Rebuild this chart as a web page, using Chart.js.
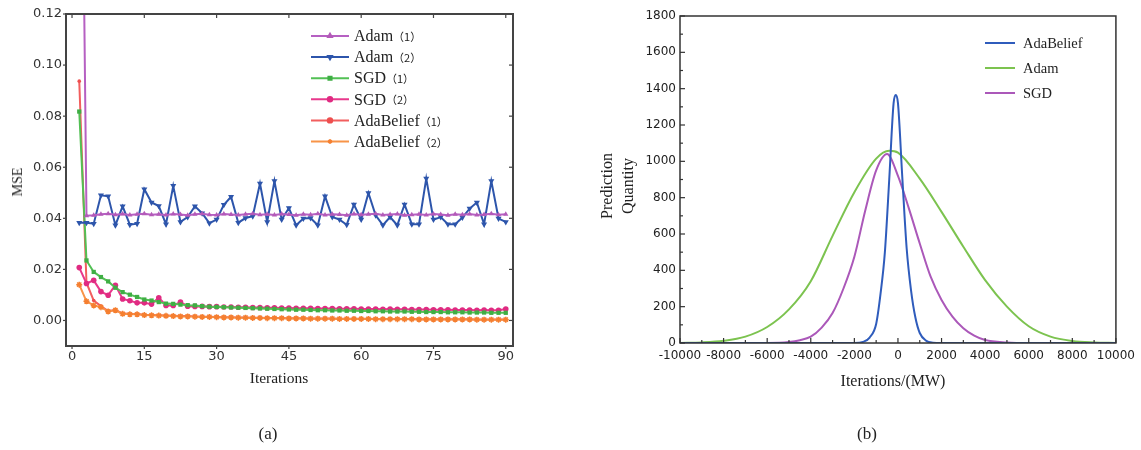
<!DOCTYPE html>
<html>
<head>
<meta charset="utf-8">
<script src="https://cdn.jsdelivr.net/npm/chart.js@4.4.0/dist/chart.umd.min.js"></script>
<style>
  body { margin: 0; background: #fff; }
  #wrap { position: relative; width: 1141px; height: 450px; overflow: hidden; background: #fff; }
  canvas { position: absolute; top: 0; }
  .t { position: absolute; font-family: "Liberation Serif", "Times New Roman", serif; color: #222;
       white-space: nowrap; transform: translate(-50%, -50%); line-height: 1; }
  .rot { transform: translate(-50%, -50%) rotate(-90deg); }
</style>
</head>
<body>
<div id="wrap">
  <canvas id="chartA" width="570" height="400" style="left:0"></canvas>
  <canvas id="chartB" width="571" height="400" style="left:570px"></canvas>
  <div class="t rot" style="left:18px;top:182px;font-size:14px">MSE</div>
  <div class="t" style="left:279px;top:378px;font-size:15.5px">Iterations</div>
  <div class="t rot" style="left:607px;top:186px;font-size:16px">Prediction</div>
  <div class="t rot" style="left:628px;top:186px;font-size:16px">Quantity</div>
  <div class="t" style="left:893px;top:381px;font-size:16px">Iterations/(MW)</div>
  <div class="t" style="left:268px;top:433px;font-size:17px">(a)</div>
  <div class="t" style="left:867px;top:433px;font-size:17px">(b)</div>
</div>
<script>
// ---- chart (a): MSE per iteration ----
const iters = [1.5, 3, 4.5, 6, 7.5, 9, 10.5, 12, 13.5, 15, 16.5, 18, 19.5, 21, 22.5, 24, 25.5, 27, 28.5, 30,
  31.5, 33, 34.5, 36, 37.5, 39, 40.5, 42, 43.5, 45, 46.5, 48, 49.5, 51, 52.5, 54, 55.5, 57, 58.5, 60,
  61.5, 63, 64.5, 66, 67.5, 69, 70.5, 72, 73.5, 75, 76.5, 78, 79.5, 81, 82.5, 84, 85.5, 87, 88.5, 90];

const adam1 = [0.3000, 0.0410, 0.0412, 0.0416, 0.0418, 0.0414, 0.0417, 0.0413, 0.0416, 0.0418,
  0.0414, 0.0416, 0.0413, 0.0417, 0.0415, 0.0412, 0.0416, 0.0418, 0.0414, 0.0413,
  0.0417, 0.0415, 0.0413, 0.0416, 0.0418, 0.0414, 0.0416, 0.0413, 0.0417, 0.0415,
  0.0412, 0.0416, 0.0414, 0.0418, 0.0413, 0.0416, 0.0415, 0.0412, 0.0417, 0.0414,
  0.0416, 0.0418, 0.0413, 0.0415, 0.0417, 0.0412, 0.0414, 0.0416, 0.0413, 0.0417,
  0.0415, 0.0412, 0.0416, 0.0414, 0.0417, 0.0413, 0.0415, 0.0418, 0.0414, 0.0416];

const adam2 = [0.0383, 0.0383, 0.0379, 0.0490, 0.0486, 0.0373, 0.0447, 0.0375, 0.0379, 0.0514,
  0.0462, 0.0448, 0.0377, 0.0527, 0.0386, 0.0405, 0.0447, 0.0420, 0.0381, 0.0395,
  0.0453, 0.0484, 0.0383, 0.0401, 0.0408, 0.0536, 0.0386, 0.0546, 0.0395, 0.0440,
  0.0373, 0.0399, 0.0401, 0.0373, 0.0486, 0.0405, 0.0395, 0.0375, 0.0454, 0.0395,
  0.0499, 0.0412, 0.0373, 0.0405, 0.0373, 0.0454, 0.0377, 0.0377, 0.0556, 0.0395,
  0.0405, 0.0377, 0.0377, 0.0403, 0.0438, 0.0462, 0.0377, 0.0546, 0.0399, 0.0386];

const sgd1 = [0.0818, 0.0235, 0.0190, 0.0170, 0.0153, 0.0128, 0.0111, 0.0101, 0.0092, 0.0082,
  0.0078, 0.0072, 0.0066, 0.0065, 0.0062, 0.0060, 0.0059, 0.0056, 0.0054, 0.0053,
  0.0052, 0.0051, 0.0050, 0.0049, 0.0048, 0.0047, 0.0046, 0.0045, 0.0044, 0.0043,
  0.0042, 0.0042, 0.0041, 0.0040, 0.0040, 0.0039, 0.0039, 0.0038, 0.0038, 0.0037,
  0.0037, 0.0036, 0.0036, 0.0035, 0.0035, 0.0035, 0.0034, 0.0034, 0.0033, 0.0033,
  0.0033, 0.0032, 0.0032, 0.0032, 0.0031, 0.0031, 0.0031, 0.0030, 0.0030, 0.0030];

const sgd2 = [0.0207, 0.0145, 0.0157, 0.0113, 0.0099, 0.0138, 0.0084, 0.0077, 0.0069, 0.0069,
  0.0064, 0.0089, 0.0059, 0.0059, 0.0072, 0.0056, 0.0055, 0.0055, 0.0054, 0.0054,
  0.0053, 0.0053, 0.0052, 0.0052, 0.0051, 0.0051, 0.0050, 0.0050, 0.0049, 0.0049,
  0.0048, 0.0048, 0.0048, 0.0047, 0.0047, 0.0047, 0.0046, 0.0046, 0.0046, 0.0045,
  0.0045, 0.0045, 0.0044, 0.0045, 0.0044, 0.0044, 0.0043, 0.0043, 0.0043, 0.0042,
  0.0042, 0.0042, 0.0041, 0.0041, 0.0041, 0.0040, 0.0041, 0.0040, 0.0040, 0.0045];

const adaBelief1 = [0.0937, 0.0148, 0.0078, 0.0056, 0.0037, 0.0041, 0.0028, 0.0025, 0.0025, 0.0022,
  0.0021, 0.0020, 0.0019, 0.0018, 0.0017, 0.0017, 0.0016, 0.0015, 0.0015, 0.0014,
  0.0013, 0.0013, 0.0012, 0.0012, 0.0011, 0.0011, 0.0010, 0.0010, 0.0010, 0.0009,
  0.0009, 0.0009, 0.0008, 0.0008, 0.0008, 0.0008, 0.0007, 0.0007, 0.0007, 0.0007,
  0.0007, 0.0006, 0.0006, 0.0006, 0.0006, 0.0006, 0.0006, 0.0005, 0.0005, 0.0005,
  0.0005, 0.0005, 0.0005, 0.0005, 0.0005, 0.0004, 0.0004, 0.0004, 0.0004, 0.0004];

const adaBelief2 = [0.0140, 0.0075, 0.0059, 0.0052, 0.0035, 0.0040, 0.0026, 0.0024, 0.0024, 0.0021,
  0.0020, 0.0019, 0.0018, 0.0017, 0.0016, 0.0016, 0.0015, 0.0014, 0.0014, 0.0013,
  0.0012, 0.0012, 0.0011, 0.0011, 0.0010, 0.0010, 0.0009, 0.0009, 0.0009, 0.0008,
  0.0008, 0.0008, 0.0007, 0.0007, 0.0007, 0.0007, 0.0006, 0.0006, 0.0006, 0.0006,
  0.0006, 0.0005, 0.0005, 0.0005, 0.0005, 0.0005, 0.0005, 0.0004, 0.0004, 0.0004,
  0.0004, 0.0004, 0.0004, 0.0004, 0.0004, 0.0003, 0.0003, 0.0003, 0.0003, 0.0003];

const xTicksA = [0, 15, 30, 45, 60, 75, 90];
const yTicksA = [0, 0.02, 0.04, 0.06, 0.08, 0.10, 0.12];

// ---- chart (b): prediction quantity curves ----
const xBlue = [-10000, -2000, -1600, -1300, -1000, -800, -600, -400, -200, -100, 0, 200, 400, 600, 800, 1000, 1300, 1600, 2000, 10000];
const yBlue = [0, 0, 6, 30, 105, 270, 500, 900, 1320, 1365, 1320, 910, 520, 290, 140, 55, 12, 2, 0, 0];

const xGreen = [-10000, -9000, -8000, -7000, -6000, -5000, -4000, -3000, -2000, -1000, -400, 0, 1000, 2000, 3000, 4000, 5000, 6000, 7000, 8000, 9000, 10000];
const yGreen = [0, 3, 12, 35, 88, 185, 340, 590, 830, 1015, 1058, 1048, 905, 722, 530, 346, 200, 92, 35, 11, 3, 0];

const xPurple = [-10000, -6000, -5000, -4500, -4000, -3500, -3000, -2500, -2000, -1500, -1000, -500, 0, 500, 1000, 1500, 2000, 2500, 3000, 3500, 4000, 5000, 6000, 10000];
const yPurple = [0, 0, 5, 15, 35, 85, 165, 300, 475, 730, 950, 1040, 920, 741, 548, 365, 237, 145, 81, 40, 16, 3, 0, 0];

function pts(xs, ys) {
  return xs.map((x, i) => ({ x: x, y: ys[i] }));
}

// box around the plot area plus tick marks taken from the scales
const frameTicks = {
  id: "frameTicks",
  afterDraw(chart, args, o) {
    const ctx = chart.ctx;
    const a = chart.chartArea;
    const sx = chart.scales.x;
    const sy = chart.scales.y;
    ctx.save();
    ctx.strokeStyle = o.color;
    ctx.lineWidth = o.width;
    ctx.strokeRect(a.left, a.top, a.right - a.left, a.bottom - a.top);
    ctx.lineWidth = 1.2;
    const mark = (x1, y1, x2, y2) => {
      ctx.beginPath();
      ctx.moveTo(x1, y1);
      ctx.lineTo(x2, y2);
      ctx.stroke();
    };
    const xs = sx.ticks.map((t) => t.value);
    const ys = sy.ticks.map((t) => t.value);
    const doX = (vals, k) => vals.forEach((v) => {
      const p = sx.getPixelForValue(v);
      if (o.bottom) mark(p, a.bottom, p, a.bottom + o.bottom * k);
      if (o.top) mark(p, a.top, p, a.top + o.top * k);
    });
    const doY = (vals, k) => vals.forEach((v) => {
      const p = sy.getPixelForValue(v);
      if (o.left) mark(a.left, p, a.left + o.left * k, p);
      if (o.right) mark(a.right, p, a.right + o.right * k, p);
    });
    doX(xs, 1);
    doY(ys, 1);
    if (o.minor) {
      doX(xs.slice(1).map((v, i) => (v + xs[i]) / 2), 0.6);
      doY(ys.slice(1).map((v, i) => (v + ys[i]) / 2), 0.6);
    }
    ctx.restore();
  },
};

// legend drawn at a fixed spot
const boxLegend = {
  id: "boxLegend",
  afterDraw(chart, args, o) {
    const ctx = chart.ctx;
    ctx.save();
    chart.data.datasets.forEach((ds, i) => {
      const y = o.y + i * o.rowH;
      ctx.strokeStyle = ds.borderColor;
      ctx.lineWidth = 2;
      ctx.beginPath();
      ctx.moveTo(o.x, y);
      ctx.lineTo(o.x + o.len, y);
      ctx.stroke();
      if (ds.pointRadius) {
        ctx.fillStyle = ds.pointBackgroundColor || ds.borderColor;
        ctx.strokeStyle = ds.pointBackgroundColor || ds.borderColor;
        Chart.helpers.drawPoint(ctx, {
          pointStyle: ds.pointStyle,
          rotation: ds.pointRotation || 0,
          radius: o.markR,
          borderWidth: 1,
        }, o.x + o.len / 2, y);
      }
      const m = ds.label.match(/^(.*?)(（.*）)?$/);
      const tx = o.x + o.len + o.gap;
      ctx.fillStyle = "#222";
      ctx.textBaseline = "middle";
      ctx.font = o.font;
      ctx.fillText(m[1], tx, y + 1);
      if (m[2]) {
        const w = ctx.measureText(m[1]).width;
        ctx.font = o.subFont;
        ctx.fillText(m[2], tx + w, y + 1);
      }
    });
    ctx.restore();
  },
};

const tickFontA = { family: "DejaVu Sans", size: 13 };
const tickFontB = { family: "DejaVu Sans", size: 12 };

new Chart(document.getElementById("chartA"), {
  type: "line",
  data: {
    datasets: [
      { label: "Adam（1）", data: pts(iters, adam1), borderColor: "#b660c2", pointBackgroundColor: "#b35ab8",
        pointStyle: "triangle", pointRadius: 3 },
      { label: "Adam（2）", data: pts(iters, adam2), borderColor: "#2d55ab", pointBackgroundColor: "#2d55ab",
        pointStyle: "triangle", pointRotation: 180, pointRadius: 3.5 },
      { label: "SGD（1）", data: pts(iters, sgd1), borderColor: "#52c054", pointBackgroundColor: "#3fae44",
        pointStyle: "rect", pointRadius: 3 },
      { label: "SGD（2）", data: pts(iters, sgd2), borderColor: "#e8388c", pointBackgroundColor: "#e02b82",
        pointStyle: "circle", pointRadius: 2.8 },
      { label: "AdaBelief（1）", data: pts(iters, adaBelief1), borderColor: "#f25e5e", pointBackgroundColor: "#ee4f4f",
        pointStyle: "circle", pointRadius: 1.8, order: 1 },
      { label: "AdaBelief（2）", data: pts(iters, adaBelief2), borderColor: "#f89448", pointBackgroundColor: "#f57f30",
        pointBorderColor: "#f57f30", pointBorderWidth: 1.5, pointStyle: "star", pointRadius: 3 },
    ],
  },
  options: {
    responsive: false,
    animation: false,
    events: [],
    devicePixelRatio: 1,
    layout: { padding: { top: 14, right: 57, left: 0, bottom: 0 } },
    elements: { line: { borderWidth: 2, tension: 0 }, point: { borderWidth: 0 } },
    scales: {
      x: {
        type: "linear", min: -1.25, max: 91.5,
        afterBuildTicks: (s) => { s.ticks = xTicksA.map((v) => ({ value: v })); },
        afterFit: (s) => { s.height = 54; },
        grid: { display: false, drawTicks: false }, border: { display: false },
        ticks: { font: tickFontA, color: "#333", padding: 3, maxRotation: 0, autoSkip: false,
          callback: (v) => String(v) },
      },
      y: {
        type: "linear", min: -0.01, max: 0.12,
        afterBuildTicks: (s) => { s.ticks = yTicksA.map((v) => ({ value: v })); },
        afterFit: (s) => { s.width = 66; },
        grid: { display: false, drawTicks: false }, border: { display: false },
        ticks: { font: tickFontA, color: "#333", padding: 4, autoSkip: false,
          callback: (v) => Number(v).toFixed(2) },
      },
    },
    plugins: {
      legend: { display: false },
      tooltip: { enabled: false },
      frameTicks: { color: "#444", width: 2, bottom: 3, top: 4, left: -3, right: -4 },
      boxLegend: { x: 311, y: 36, rowH: 21.1, len: 38, gap: 5, markR: 2.2,
        font: '16px "Liberation Serif"', subFont: '11px "Noto Sans CJK SC"' },
    },
  },
  plugins: [frameTicks, boxLegend],
});

new Chart(document.getElementById("chartB"), {
  type: "line",
  data: {
    datasets: [
      { label: "AdaBelief", data: pts(xBlue, yBlue), borderColor: "#2f5cbc" },
      { label: "Adam", data: pts(xGreen, yGreen), borderColor: "#7cc34f" },
      { label: "SGD", data: pts(xPurple, yPurple), borderColor: "#ab58b9" },
    ],
  },
  options: {
    responsive: false,
    animation: false,
    events: [],
    devicePixelRatio: 1,
    layout: { padding: { top: 16, right: 24, left: 0, bottom: 0 } },
    elements: { line: { borderWidth: 2, cubicInterpolationMode: "monotone" }, point: { radius: 0 } },
    scales: {
      x: {
        type: "linear", min: -10000, max: 10000,
        afterFit: (s) => { s.height = 57; },
        grid: { display: false, drawTicks: false }, border: { display: false },
        ticks: { stepSize: 2000, font: tickFontB, color: "#222", padding: 6, maxRotation: 0, autoSkip: false,
          callback: (v) => String(v) },
      },
      y: {
        type: "linear", min: 0, max: 1800,
        afterFit: (s) => { s.width = 110; },
        grid: { display: false, drawTicks: false }, border: { display: false },
        ticks: { stepSize: 200, font: tickFontB, color: "#222", padding: 4, autoSkip: false,
          callback: (v) => String(v) },
      },
    },
    plugins: {
      legend: { display: false },
      tooltip: { enabled: false },
      frameTicks: { color: "#333", width: 1.5, bottom: -5, left: 5, minor: true },
      boxLegend: { x: 415, y: 43, rowH: 25, len: 30, gap: 8,
        font: '14.5px "Liberation Serif"' },
    },
  },
  plugins: [frameTicks, boxLegend],
});
</script>
</body>
</html>
